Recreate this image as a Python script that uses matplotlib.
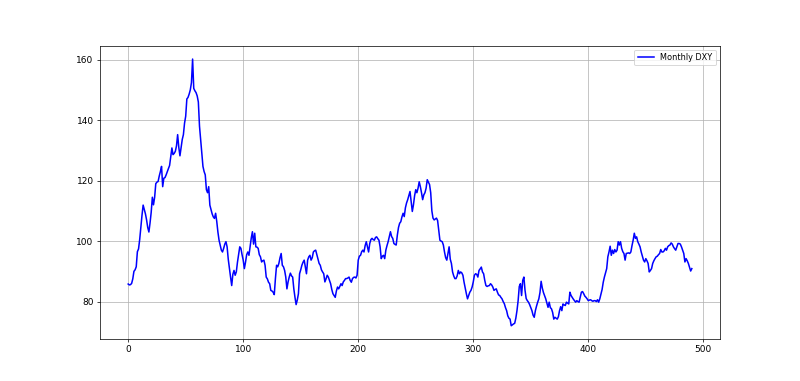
import numpy as np
import matplotlib
matplotlib.use("Agg")
import matplotlib.pyplot as plt

# valores mensuales del DXY (indice 0..490)
dxy_0_99 = [
    85.8, 85.5, 85.6, 86.0, 87.5, 90.0, 90.5, 91.5, 96.5, 97.4,
    100.5, 104.5, 108.5, 111.9, 110.5, 109.0, 107.0, 104.5, 103.0, 106.0,
    109.5, 114.5, 112.0, 114.5, 119.0, 119.5, 119.7, 121.5, 123.0, 124.7,
    118.0, 120.8, 121.0, 121.9, 123.0, 124.0, 125.0, 128.0, 130.8, 128.6,
    129.0, 129.7, 131.5, 135.2, 131.0, 128.2, 131.0, 133.6, 135.2, 139.0,
    141.3, 147.0, 147.5, 148.6, 150.0, 152.4, 160.2, 150.5, 149.7, 149.1,
    148.0, 146.0, 138.0, 133.6, 129.0, 124.7, 123.0, 121.9, 117.0, 116.0,
    118.0, 111.9, 110.5, 109.0, 108.0, 107.5, 109.2, 106.5, 103.0, 100.3,
    98.7, 97.0, 96.4, 97.6, 99.0, 99.8, 98.1, 94.0, 91.0, 88.1,
    85.3, 89.0, 90.3, 88.7, 89.8, 93.0, 95.5, 98.1, 97.6, 95.5,
]
dxy_100_199 = [
    93.7, 90.9, 93.0, 95.5, 96.4, 95.3, 98.1, 101.0, 103.1, 99.0,
    102.6, 98.1, 98.0, 97.6, 95.5, 94.8, 93.1, 93.5, 93.7, 92.0,
    88.1, 87.5, 86.4, 85.9, 83.7, 83.5, 83.1, 82.3, 87.6, 92.0,
    91.5, 92.6, 94.5, 95.9, 92.0, 91.5, 90.3, 88.1, 84.2, 86.5,
    88.1, 89.4, 88.5, 88.1, 84.2, 81.4, 79.0, 80.5, 82.6, 89.2,
    90.5, 92.0, 93.0, 93.7, 91.4, 89.2, 93.7, 94.8, 95.3, 93.7,
    94.5, 96.4, 96.8, 97.0, 95.5, 94.0, 92.6, 92.0, 90.5, 89.8,
    89.2, 86.5, 87.5, 88.7, 88.1, 87.0, 85.9, 84.0, 82.6, 82.0,
    81.4, 83.5, 84.8, 84.2, 85.0, 85.9, 85.3, 86.5, 87.0, 87.6,
    87.6, 87.8, 88.1, 87.0, 86.4, 87.6, 88.0, 88.1, 87.8, 88.7,
]
dxy_200_299 = [
    93.7, 95.0, 95.3, 96.5, 97.0, 96.4, 98.5, 99.8, 98.1, 96.4,
    99.2, 100.5, 100.9, 100.5, 100.3, 101.2, 101.4, 100.8, 100.3, 98.1,
    94.2, 95.0, 95.3, 94.2, 97.0, 98.5, 99.8, 101.4, 103.1, 101.5,
    100.9, 99.2, 98.9, 98.7, 102.0, 104.5, 105.9, 106.4, 108.0, 109.2,
    108.1, 111.0, 112.6, 113.7, 115.0, 116.4, 113.1, 109.8, 112.0, 115.0,
    117.0, 116.0, 117.5, 119.6, 118.0, 116.0, 113.7, 115.3, 116.0, 117.5,
    120.3, 119.5, 118.7, 116.0, 110.0, 107.6, 107.0, 107.3, 107.6, 106.8,
    103.7, 100.3, 100.0, 99.8, 98.7, 96.4, 94.5, 93.7, 95.9, 98.1,
    94.0, 92.6, 89.8, 88.5, 87.6, 87.6, 88.5, 90.3, 89.2, 89.8,
    89.5, 88.7, 86.4, 84.5, 82.6, 80.9, 82.0, 83.1, 83.7, 84.8,
]
dxy_300_399 = [
    86.5, 88.7, 89.2, 89.0, 88.1, 90.3, 90.8, 91.4, 89.8, 89.2,
    87.0, 85.3, 85.0, 85.2, 85.3, 85.9, 85.5, 84.8, 83.7, 84.0,
    84.2, 83.1, 82.2, 82.0, 81.4, 80.9, 80.0, 79.3, 78.0, 77.0,
    75.3, 74.5, 74.2, 72.0, 72.3, 72.6, 72.8, 74.5, 77.0, 80.3,
    85.0, 85.9, 82.0, 87.0, 88.1, 83.7, 81.0, 80.3, 79.8, 79.0,
    78.0, 77.0, 75.5, 74.8, 77.0, 78.5, 79.8, 80.9, 83.0, 86.7,
    84.5, 83.0, 82.0, 80.9, 79.5, 78.1, 79.8, 78.0, 77.6, 76.4,
    74.2, 74.8, 74.5, 74.2, 75.0, 77.0, 78.3, 77.0, 79.2, 78.9,
    78.7, 79.8, 79.5, 79.2, 83.1, 82.0, 81.4, 80.8, 80.3, 79.8,
    80.3, 80.0, 79.8, 81.5, 83.1, 83.3, 82.6, 81.8, 81.4, 80.9,
]
dxy_400_490 = [
    80.3, 80.5, 80.6, 80.3, 80.1, 80.3, 80.3, 80.0, 80.6, 79.8,
    80.9, 82.5, 84.0, 86.4, 88.1, 89.5, 90.9, 94.8, 96.4, 98.3,
    95.3, 97.0, 95.9, 97.2, 96.4, 97.0, 99.8, 98.7, 99.8, 97.6,
    96.5, 95.9, 93.7, 95.9, 96.0, 96.1, 95.9, 96.4, 98.5, 100.3,
    102.6, 100.9, 101.4, 99.8, 99.0, 98.1, 96.4, 95.0, 93.7, 93.1,
    94.2, 93.5, 92.6, 89.8, 90.3, 90.9, 92.6, 93.5, 94.2, 94.8,
    95.0, 95.5, 95.9, 97.2, 96.4, 96.4, 96.8, 97.6, 97.0, 98.1,
    98.5, 98.7, 99.4, 99.0, 98.1, 97.5, 97.0, 98.1, 99.2, 99.2,
    99.0, 98.1, 97.0, 95.9, 93.1, 94.2, 93.5, 92.6, 91.4, 90.1,
    90.9,
]

dxy = np.array(dxy_0_99 + dxy_100_199 + dxy_200_299 + dxy_300_399 + dxy_400_490)

# figura grande reducida: 800x381 px a 65 dpi
dpi = 65
fig = plt.figure(figsize=(800 / dpi, 381 / dpi), dpi=dpi)
ax = fig.add_subplot(111)
ax.plot(dxy, color='blue', linewidth=1.7, label='Monthly DXY')
ax.legend(loc='upper right', fontsize=9)
ax.grid(True)

fig.savefig('out.png', dpi=dpi)
